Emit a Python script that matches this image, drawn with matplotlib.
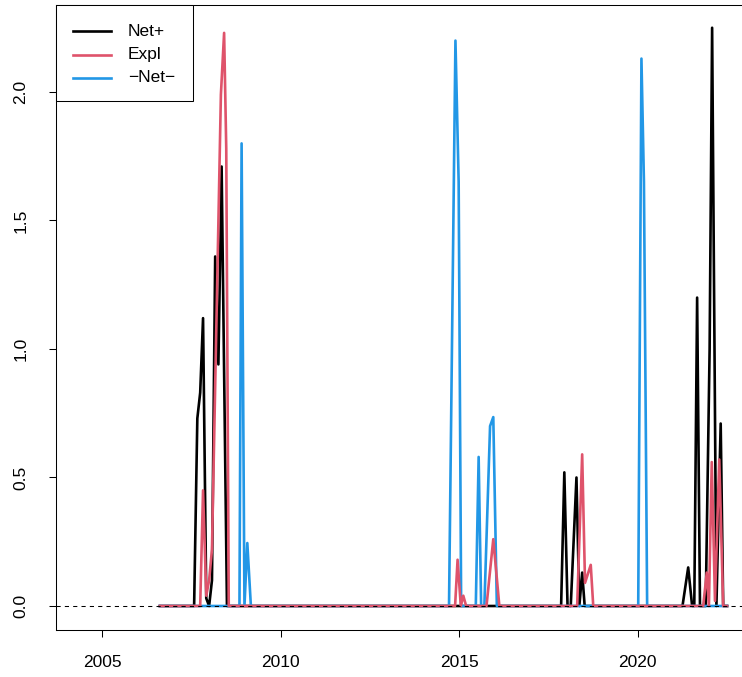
import matplotlib
matplotlib.use("Agg")
import matplotlib.pyplot as plt
from matplotlib.lines import Line2D
from matplotlib.patches import Rectangle

plt.rcParams['font.family'] = ['Liberation Sans', 'DejaVu Sans']

# Net+ series (decimal year, value)
net_plus_year = [2006.62, 2007.58, 2007.67, 2007.75, 2007.83, 2007.92, 2008.00,
                 2008.08, 2008.17, 2008.26, 2008.35, 2008.50,
                 2017.86, 2017.95, 2018.04, 2018.13, 2018.29, 2018.37, 2018.45,
                 2018.52, 2021.26, 2021.42, 2021.53, 2021.59, 2021.67, 2021.75,
                 2021.91, 2022.02, 2022.09, 2022.21, 2022.33, 2022.40, 2022.51]
net_plus_value = [0, 0, 0.73, 0.83, 1.12, 0.03, 0.0,
                  0.10, 1.36, 0.94, 1.71, 0,
                  0, 0.52, 0, 0, 0.50, 0, 0.13,
                  0, 0, 0.15, 0, 0, 1.20, 0,
                  0, 1.00, 2.25, 0, 0.71, 0, 0]

# Expl series
expl_year = [2006.62, 2007.75, 2007.83, 2007.92, 2008.00, 2008.08, 2008.33,
             2008.42, 2008.48, 2008.55,
             2014.89, 2014.96, 2015.05, 2015.12, 2015.20,
             2015.77, 2015.96, 2016.13,
             2018.31, 2018.45, 2018.53, 2018.69, 2018.76,
             2021.84, 2021.94, 2022.00, 2022.08, 2022.17, 2022.29, 2022.40,
             2022.51]
expl_value = [0, 0, 0.45, 0.04, 0.10, 0.22, 1.99,
              2.23, 1.78, 0,
              0, 0.18, 0, 0.04, 0,
              0, 0.26, 0,
              0, 0.59, 0.09, 0.16, 0,
              0, 0.13, 0, 0.56, 0.02, 0.57, 0,
              0]

# -Net- series
net_minus_year = [2006.62, 2008.85, 2008.91, 2008.99, 2009.07, 2009.17,
                  2014.72, 2014.90, 2014.99, 2015.06,
                  2015.47, 2015.55, 2015.62, 2015.71, 2015.87, 2015.96, 2016.06,
                  2020.02, 2020.11, 2020.18, 2020.27, 2022.51]
net_minus_value = [0, 0, 1.80, 0, 0.245, 0,
                   0, 2.20, 1.65, 0,
                   0, 0.58, 0, 0, 0.70, 0.735, 0,
                   0, 2.13, 1.65, 0, 0]

legend_labels = ["Net+", "Expl", "\u2212Net\u2212"]
x_ticks = [2005, 2010, 2015, 2020]
y_ticks = [0.0, 0.5, 1.0, 1.5, 2.0]
y_tick_labels = ["0.0", "0.5", "1.0", "1.5", "2.0"]

col_black = "#000000"
col_red = "#DF536B"
col_blue = "#2297E6"

FS = 12.5
W, H = 742, 677
fig = plt.figure(figsize=(W / 100, H / 100), dpi=100)


def px(x0, y0):
    return x0 / W, 1 - y0 / H


left, top, right, bottom = 56, 5, 743, 630
ax = fig.add_axes([left / W, 1 - bottom / H, (right - left) / W, (bottom - top) / H])

lw = 1.9
ax.plot(net_plus_year, net_plus_value, color=col_black, lw=lw, solid_joinstyle='round')
ax.plot(net_minus_year, net_minus_value, color=col_blue, lw=lw, solid_joinstyle='round')
ax.plot(expl_year, expl_value, color=col_red, lw=lw, solid_joinstyle='round')
ax.axhline(0, color='black', lw=0.75, linestyle=(0, (4, 4)))

ax.set_xlim(2003.711, 2022.955)
ax.set_ylim(-0.0934, 2.3385)

ax.set_xticks(x_ticks)
ax.set_xticklabels([str(t) for t in x_ticks])
ax.set_yticks(y_ticks)
ax.set_yticklabels(y_tick_labels, rotation=90, va='center')

ax.tick_params(axis='both', direction='out', length=5, width=0.75, labelsize=FS,
               color='black')
ax.tick_params(axis='x', pad=13)
ax.tick_params(axis='y', pad=15)
for s in ax.spines.values():
    s.set_linewidth(0.75)

# legend box in the top-left corner
x0, y0 = px(56, 5)
x1, y1 = px(193, 101)
fig.patches.append(Rectangle((x0, y1), x1 - x0, y0 - y1, transform=fig.transFigure,
                             facecolor='white', edgecolor='black', lw=0.75, zorder=5))
rows_y = [31, 54.5, 78]
for yy, c, lab in zip(rows_y, [col_black, col_red, col_blue], legend_labels):
    a, b = px(73, yy)
    c2, _ = px(111, yy)
    fig.add_artist(Line2D([a, c2], [b, b], transform=fig.transFigure, color=c, lw=lw,
                          zorder=6))
    tx, ty = px(128, yy)
    fig.text(tx, ty, lab, ha='left', va='center', fontsize=FS, zorder=6)

fig.savefig("out.png", dpi=100)
